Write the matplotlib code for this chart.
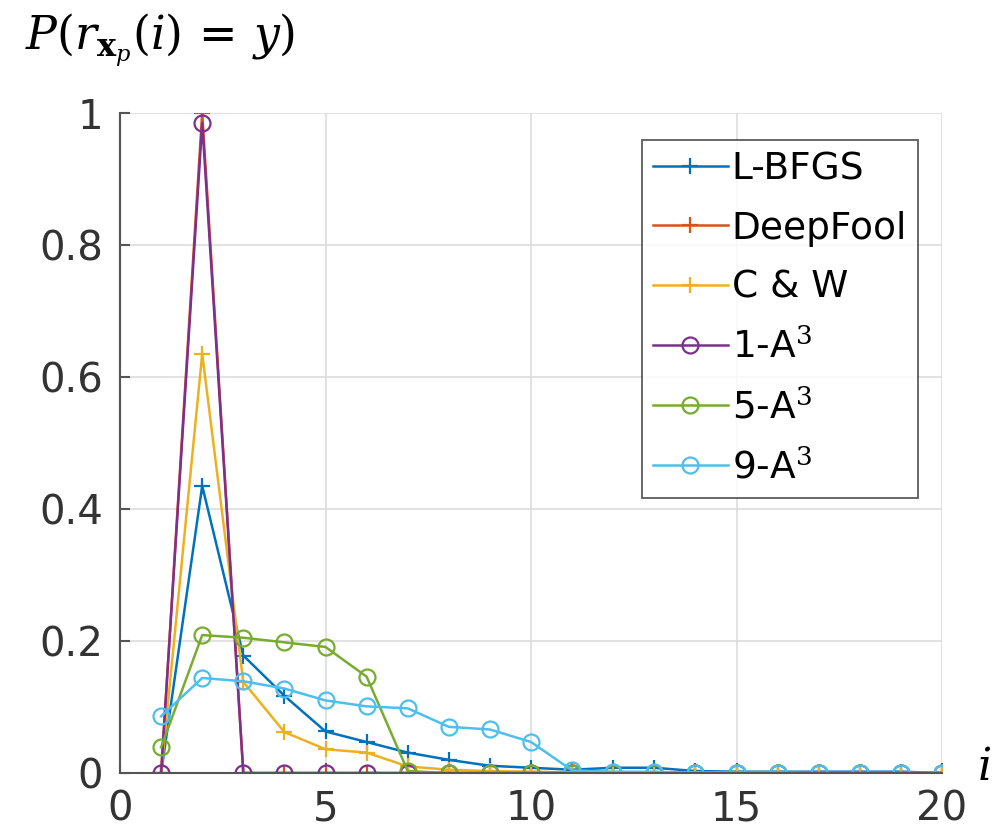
import matplotlib
matplotlib.use("Agg")
import matplotlib.pyplot as plt
import numpy as np

plt.rcParams['font.family'] = ['DejaVu Sans']
plt.rcParams['mathtext.fontset'] = 'dejavuserif'

ranks = list(range(1, 21))
lbfgs    = [0.0, 0.435, 0.178, 0.117, 0.063, 0.047, 0.031, 0.020, 0.011, 0.008, 0.005, 0.008, 0.008, 0.003, 0.002, 0.002, 0.002, 0.002, 0.002, 0.0]
deepfool = [0.0, 1.0, 0.0, 0.0, 0.0, 0.0, 0.0, 0.0, 0.0, 0.0, 0.0, 0.0, 0.0, 0.0, 0.0, 0.0, 0.0, 0.0, 0.0, 0.0]
cw       = [0.0, 0.635, 0.138, 0.062, 0.036, 0.031, 0.010, 0.005, 0.003, 0.002, 0.001, 0.001, 0.001, 0.001, 0.001, 0.001, 0.0, 0.0, 0.0, 0.0]
a1       = [0.0, 0.985, 0.0, 0.0, 0.0, 0.0, 0.0, 0.0, 0.0, 0.0, 0.0, 0.0, 0.0, 0.0, 0.0, 0.0, 0.0, 0.0, 0.0, 0.0]
a5       = [0.039, 0.209, 0.205, 0.198, 0.191, 0.146, 0.003, 0.0, 0.0, 0.0, 0.0, 0.0, 0.0, 0.0, 0.0, 0.0, 0.0, 0.0, 0.0, 0.0]
a9       = [0.086, 0.144, 0.139, 0.128, 0.110, 0.101, 0.098, 0.070, 0.066, 0.047, 0.004, 0.002, 0.002, 0.0, 0.0, 0.0, 0.0, 0.0, 0.0, 0.0]

names  = ['L-BFGS', 'DeepFool', 'C & W', '1-A$^3$', '5-A$^3$', '9-A$^3$']
series = [lbfgs, deepfool, cw, a1, a5, a9]
colors = ['#0072BD', '#D95319', '#EDB120', '#7E2F8E', '#77AC30', '#4DBEEE']
markers = ['+', '+', '+', 'o', 'o', 'o']

fig = plt.figure(figsize=(9.96, 8.34), dpi=100)
ax = fig.add_axes([0.1205, 0.0731, 0.8253, 0.7914])

for name, ys, c, m in zip(names, series, colors, markers):
    if m == '+':
        ax.plot(ranks, ys, color=c, marker=m, markersize=12, markeredgewidth=1.6,
                linewidth=1.8, label=name)
    else:
        ax.plot(ranks, ys, color=c, marker=m, markersize=11.5, markeredgewidth=1.6,
                markerfacecolor='none', linewidth=1.8, label=name)

ax.set_xlim(0, 20)
ax.set_ylim(0, 1)
ax.set_xticks([0, 5, 10, 15, 20])
ax.set_yticks([0, 0.2, 0.4, 0.6, 0.8, 1])
ax.set_yticklabels(['0', '0.2', '0.4', '0.6', '0.8', '1'])
ax.grid(True, color='#dddddd', linewidth=1.2)
ax.set_axisbelow(True)
for s in ['top', 'right']:
    ax.spines[s].set_visible(False)
for s in ['left', 'bottom']:
    ax.spines[s].set_color('#555555')
    ax.spines[s].set_linewidth(1.5)
ax.tick_params(direction='in', length=7, width=1.5, color='#555555',
               labelsize=29, labelcolor='#333333', pad=12)

leg = ax.legend(loc='upper right', bbox_to_anchor=(0.971, 0.959), fontsize=27,
                frameon=True, fancybox=False, edgecolor='#333333',
                handlelength=2.0, handletextpad=0.1, borderpad=0.3,
                labelspacing=0.62, borderaxespad=0.0)
leg.get_frame().set_linewidth(1.3)

fig.text(0.025, 0.94, r'$P(r_{\mathbf{x}_p}(i)\,=\,y)$', fontsize=33, va='baseline', ha='left')
fig.text(0.988, 0.065, r'$i$', fontsize=32, va='baseline', ha='center')

fig.savefig('out.png', dpi=100)
